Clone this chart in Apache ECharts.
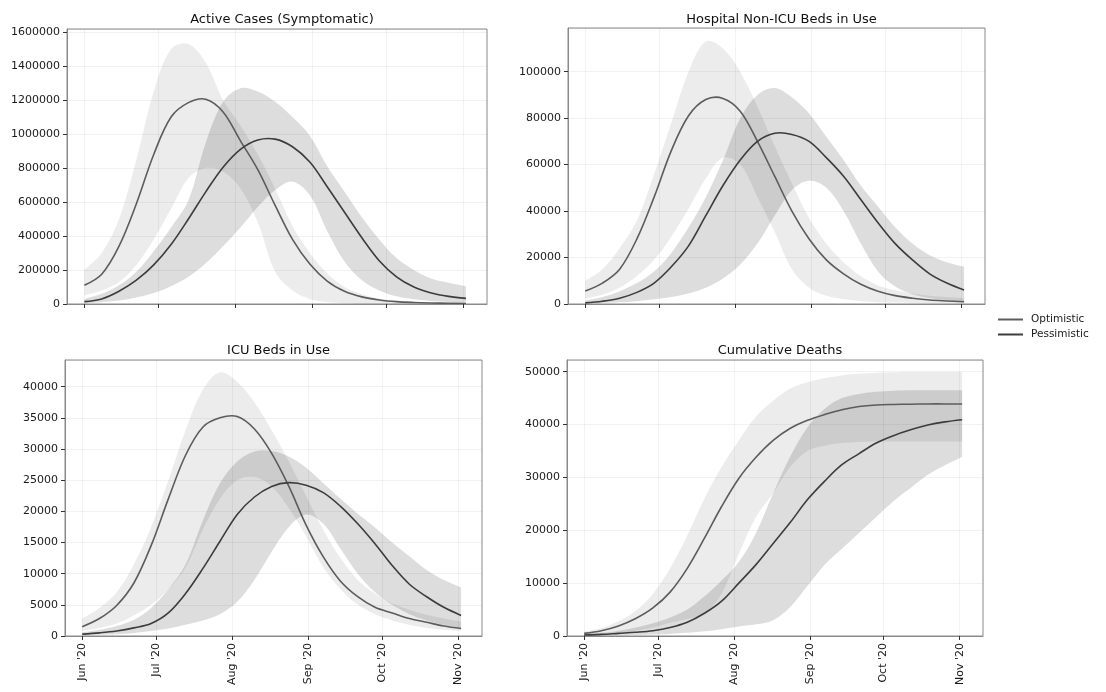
<!DOCTYPE html>
<html>
<head>
<meta charset="utf-8">
<title>Scenario projections</title>
<script src="https://cdn.jsdelivr.net/npm/echarts@6/dist/echarts.min.js"></script>
<style>
  html, body { margin: 0; padding: 0; background: #ffffff; }
  #chart { width: 1106px; height: 692px; }
</style>
</head>
<body>
<div id="chart"></div>
<script>
// Days since 1 June 2020 (weekly samples)
const days = [0, 7, 14, 21, 28, 35, 42, 49, 56, 63, 70, 77, 84, 91, 98, 105, 112, 119, 126, 133, 140, 147, 154];

// Month ticks (days since 1 June) and their labels
const monthTicks = [0, 30, 61, 92, 122, 153];
const monthLabels = ["Jun '20", "Jul '20", "Aug '20", "Sep '20", "Oct '20", "Nov '20"];

const panelTitles = ['Active Cases (Symptomatic)', 'Hospital Non-ICU Beds in Use', 'ICU Beds in Use', 'Cumulative Deaths'];

// Active cases (symptomatic)
const casesOpt     = [110000, 175000, 340000, 590000, 880000, 1100000, 1185000, 1205000, 1130000, 960000, 790000, 580000, 380000, 235000, 135000, 75000, 42000, 24000, 14000, 9000, 6000, 4000, 3000];
const casesOptLow  = [50000, 80000, 130000, 230000, 380000, 560000, 740000, 800000, 780000, 680000, 480000, 190000, 80000, 30000, 12000, 5000, 2000, 1000, 500, 300, 200, 100, 100];
const casesOptHigh = [200000, 300000, 500000, 850000, 1250000, 1500000, 1530000, 1420000, 1200000, 1050000, 880000, 680000, 460000, 300000, 180000, 100000, 58000, 32000, 19000, 12000, 8000, 6000, 5000];
const casesPes     = [14000, 30000, 75000, 140000, 230000, 350000, 500000, 660000, 805000, 910000, 965000, 970000, 925000, 835000, 690000, 540000, 390000, 255000, 160000, 100000, 65000, 45000, 33000];
const casesPesLow  = [5000, 10000, 20000, 38000, 65000, 105000, 160000, 240000, 340000, 450000, 570000, 670000, 720000, 640000, 430000, 250000, 140000, 80000, 45000, 28000, 18000, 12000, 8000];
const casesPesHigh = [30000, 60000, 110000, 190000, 310000, 450000, 610000, 950000, 1190000, 1270000, 1250000, 1190000, 1100000, 990000, 810000, 660000, 510000, 380000, 270000, 200000, 150000, 125000, 105000];

// Hospital non-ICU beds in use
const hospOpt      = [5600, 9000, 15000, 28000, 46000, 66000, 81000, 88000, 88500, 83000, 70000, 55000, 40000, 28000, 19000, 13000, 8500, 5500, 3600, 2500, 1700, 1300, 1000];
const hospOptLow   = [2500, 4000, 7000, 12000, 19000, 29000, 41000, 54000, 63000, 60000, 46000, 31000, 15000, 7000, 3500, 2000, 1200, 800, 600, 400, 300, 300, 200];
const hospOptHigh  = [10000, 15000, 24000, 36000, 56000, 78000, 100000, 113000, 110000, 100000, 85000, 68000, 52000, 37000, 26000, 18000, 12000, 8000, 6000, 4500, 3500, 3000, 2500];
const hospPes      = [500, 1200, 2500, 5000, 9000, 16000, 25000, 38000, 51000, 62000, 70000, 73500, 73000, 70000, 63000, 55000, 45000, 35000, 26000, 19000, 13000, 9000, 6000];
const hospPesLow   = [200, 400, 700, 1200, 2000, 3000, 4500, 7000, 11000, 17000, 26000, 38000, 49000, 53000, 50000, 40000, 26000, 14000, 7500, 4200, 2600, 1600, 1000];
const hospPesHigh  = [1500, 3000, 5500, 9000, 14000, 22000, 33000, 46000, 62000, 80000, 90000, 93000, 89000, 82000, 72000, 62000, 51000, 42000, 33000, 26000, 21000, 18000, 16000];

// ICU beds in use
const icuOpt       = [1500, 2800, 4900, 8500, 14500, 22000, 29000, 33500, 35000, 35200, 33200, 29300, 24000, 17800, 12700, 8800, 6300, 4600, 3700, 2800, 2200, 1600, 1200];
const icuOptLow    = [800, 1300, 2000, 3300, 5000, 7500, 11000, 17000, 22000, 25000, 25500, 24000, 20500, 16000, 11000, 7500, 5000, 3500, 2500, 1800, 1300, 1000, 800];
const icuOptHigh   = [2800, 4500, 7000, 11500, 17500, 25000, 33000, 39500, 42300, 40800, 37500, 33000, 28000, 22500, 17000, 12500, 9000, 6800, 5200, 4200, 3400, 2800, 2300];
const icuPes       = [300, 500, 800, 1300, 2000, 3700, 6800, 10800, 15200, 19500, 22300, 24000, 24600, 24200, 23000, 20800, 18000, 14800, 11300, 8300, 6300, 4600, 3300];
const icuPesLow    = [100, 200, 300, 500, 800, 1200, 1800, 2500, 3500, 5500, 9000, 13500, 17500, 19500, 18000, 14000, 10000, 7000, 5000, 3500, 2500, 1800, 1300];
const icuPesHigh   = [600, 1000, 1600, 2600, 4500, 7500, 11500, 18500, 24500, 28000, 29600, 29700, 28800, 27000, 24500, 22000, 19600, 17400, 15000, 12800, 10600, 9000, 7800];

// Cumulative deaths
const deathOpt     = [500, 1000, 1900, 3300, 5300, 8300, 12800, 18500, 24500, 29800, 33800, 37000, 39300, 40800, 41900, 42800, 43400, 43700, 43800, 43850, 43900, 43900, 43900];
const deathOptLow  = [100, 300, 600, 1000, 1600, 2500, 3200, 4200, 8000, 15500, 22500, 27000, 32000, 35000, 36000, 36500, 36700, 36800, 36800, 36800, 36800, 36800, 36800];
const deathOptHigh = [800, 1500, 2800, 4800, 8000, 12800, 19000, 26000, 32000, 37000, 41500, 44500, 46800, 48000, 48800, 49300, 49600, 49800, 49900, 50000, 50000, 50000, 50000];
const deathPes     = [200, 300, 500, 700, 1000, 1600, 2600, 4300, 6600, 10000, 13500, 17500, 21500, 25800, 29300, 32400, 34500, 36500, 37900, 39000, 39900, 40500, 40900];
const deathPesLow  = [50, 100, 150, 200, 300, 400, 600, 900, 1300, 1800, 2200, 3000, 5500, 9500, 13500, 16500, 19500, 22500, 25500, 28000, 30500, 32300, 33900];
const deathPesHigh = [400, 600, 1000, 1600, 2400, 3500, 5000, 7500, 10500, 14000, 19500, 27000, 34000, 39500, 43000, 45000, 45800, 46200, 46400, 46500, 46500, 46500, 46500];

const scenarioData = [
  { opt: casesOpt, optLow: casesOptLow, optHigh: casesOptHigh, pes: casesPes, pesLow: casesPesLow, pesHigh: casesPesHigh },
  { opt: hospOpt,  optLow: hospOptLow,  optHigh: hospOptHigh,  pes: hospPes,  pesLow: hospPesLow,  pesHigh: hospPesHigh },
  { opt: icuOpt,   optLow: icuOptLow,   optHigh: icuOptHigh,   pes: icuPes,   pesLow: icuPesLow,   pesHigh: icuPesHigh },
  { opt: deathOpt, optLow: deathOptLow, optHigh: deathOptHigh, pes: deathPes, pesLow: deathPesLow, pesHigh: deathPesHigh }
];

// Panel layout (pixels) and axis settings
const layout = [
  { left: 67,  top: 29,  width: 420, height: 275, yMax: 1618000, yStep: 200000, xLabels: false, titleTop: 8 },
  { left: 568, top: 28,  width: 417, height: 276, yMax: 118800,  yStep: 20000,  xLabels: false, titleTop: 8 },
  { left: 65,  top: 360, width: 417, height: 276, yMax: 44280,   yStep: 5000,   xLabels: true,  titleTop: 339 },
  { left: 567, top: 360, width: 416, height: 276, yMax: 52210,   yStep: 10000,  xLabels: true,  titleTop: 339 }
];

const FONT = "'DejaVu Sans', sans-serif";
const FRAME = '#8a8a8a';
const OPT_LINE = '#5c5c5c';
const PES_LINE = '#3c3c3c';
const OPT_BAND = 'rgba(0,0,0,0.075)';
const PES_BAND = 'rgba(0,0,0,0.135)';
const GRID_LINE = 'rgba(0,0,0,0.05)';
const SMOOTH = 0.35;

// Filled range between a low and a high curve, drawn as one smoothed polygon.
// The end corners are repeated so the two ends stay straight vertical cuts.
function bandSeries(gi, low, high, color, name) {
  return {
    type: 'custom',
    name: name,
    xAxisIndex: gi,
    yAxisIndex: gi,
    silent: true,
    clip: true,
    data: days.map((d, i) => [d, low[i], high[i]]),
    encode: { x: 0, y: [1, 2] },
    renderItem: function (params, api) {
      if (params.dataIndex !== 0) return null;
      const top = days.map((d, i) => api.coord([d, high[i]]));
      const bottom = days.map((d, i) => api.coord([d, low[i]])).reverse();
      const pts = [top[0]].concat(top, [top[top.length - 1], bottom[0]], bottom, [bottom[bottom.length - 1]]);
      return {
        type: 'polygon',
        shape: { points: pts, smooth: SMOOTH },
        style: { fill: color }
      };
    }
  };
}

// Central projection curve, drawn as one smoothed polyline
function curveSeries(gi, values, color, name) {
  return {
    type: 'custom',
    name: name,
    xAxisIndex: gi,
    yAxisIndex: gi,
    silent: true,
    clip: true,
    z: 5,
    itemStyle: { color: color },
    data: days.map((d, i) => [d, values[i]]),
    encode: { x: 0, y: 1 },
    renderItem: function (params, api) {
      if (params.dataIndex !== 0) return null;
      const pts = days.map((d, i) => api.coord([d, values[i]]));
      return {
        type: 'polyline',
        shape: { points: pts, smooth: SMOOTH },
        style: { fill: null, stroke: color, lineWidth: 1.6 }
      };
    }
  };
}

// Faint vertical grid lines at the month ticks
function monthGridSeries(gi) {
  return {
    type: 'line',
    name: 'month grid',
    xAxisIndex: gi,
    yAxisIndex: gi,
    data: [],
    silent: true,
    symbol: 'none',
    markLine: {
      silent: true,
      symbol: ['none', 'none'],
      label: { show: false },
      lineStyle: { color: GRID_LINE, width: 1, type: 'solid' },
      data: monthTicks.map(v => ({ xAxis: v })),
      animation: false
    }
  };
}

const grids = [], xAxes = [], yAxes = [], titles = [], series = [];

layout.forEach((L, gi) => {
  grids.push({
    left: L.left, top: L.top, width: L.width, height: L.height,
    show: true, borderColor: FRAME, borderWidth: 1, backgroundColor: 'transparent'
  });
  xAxes.push({
    type: 'value', gridIndex: gi, min: -7, max: 162.5,
    axisLine: { show: true, onZero: false, lineStyle: { color: FRAME } },
    axisTick: { show: true, customValues: monthTicks, length: 4, lineStyle: { color: '#333' } },
    axisLabel: {
      show: L.xLabels, customValues: monthTicks, rotate: 90, margin: 7,
      fontFamily: FONT, fontSize: 11, color: '#1a1a1a',
      formatter: v => monthLabels[monthTicks.indexOf(v)] || ''
    },
    splitLine: { show: false }
  });
  yAxes.push({
    type: 'value', gridIndex: gi, min: 0, max: L.yMax, interval: L.yStep,
    axisLine: { show: true, onZero: false, lineStyle: { color: FRAME } },
    axisTick: { show: true, length: 4, lineStyle: { color: '#333' } },
    axisLabel: {
      showMaxLabel: false, margin: 7,
      fontFamily: FONT, fontSize: 11, color: '#1a1a1a',
      formatter: v => String(v)
    },
    splitLine: { show: true, lineStyle: { color: GRID_LINE, width: 1 } }
  });
  titles.push({
    text: panelTitles[gi],
    left: L.left + L.width / 2,
    top: L.titleTop,
    textAlign: 'center',
    textStyle: { fontFamily: FONT, fontSize: 13, fontWeight: 'normal', color: '#111' }
  });

  const D = scenarioData[gi];
  series.push(monthGridSeries(gi));
  series.push(bandSeries(gi, D.optLow, D.optHigh, OPT_BAND, 'Optimistic range'));
  series.push(bandSeries(gi, D.pesLow, D.pesHigh, PES_BAND, 'Pessimistic range'));
  series.push(curveSeries(gi, D.opt, OPT_LINE, 'Optimistic'));
  series.push(curveSeries(gi, D.pes, PES_LINE, 'Pessimistic'));
});

const chart = echarts.init(document.getElementById('chart'), null, { renderer: 'canvas' });
chart.setOption({
  animation: false,
  backgroundColor: '#ffffff',
  title: titles,
  grid: grids,
  xAxis: xAxes,
  yAxis: yAxes,
  legend: {
    data: ['Optimistic', 'Pessimistic'],
    orient: 'vertical',
    left: 993,
    top: 309,
    itemWidth: 25,
    itemHeight: 2,
    itemGap: 4,
    icon: 'rect',
    selectedMode: false,
    textStyle: { fontFamily: FONT, fontSize: 10.5, color: '#1a1a1a', padding: [0, 0, 0, 3] }
  },
  series: series
});
</script>
</body>
</html>
